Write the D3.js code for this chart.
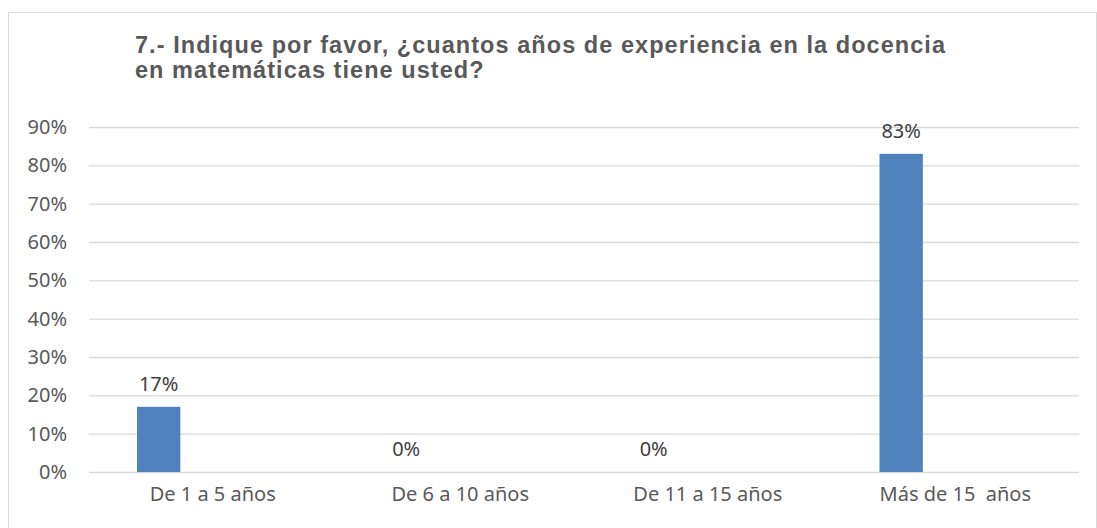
<!DOCTYPE html>
<html lang="es">
<head>
<meta charset="utf-8">
<title>Años de experiencia</title>
<script src="https://cdn.jsdelivr.net/npm/d3@7"></script>
<style>
  body { margin: 0; background: #fff; }
</style>
</head>
<body>
<script>
// data
var categories = ["De 1 a 5 años", "De 6 a 10 años", "De 11 a 15 años", "Más de 15  años"];
var values = [0.17, 0, 0, 0.83];
var yTicks = [0, 0.1, 0.2, 0.3, 0.4, 0.5, 0.6, 0.7, 0.8, 0.9];
var titleLines = ["7.- Indique por favor, ¿cuantos años de experiencia en la docencia",
                  "en matemáticas tiene usted?"];

var width = 1097, height = 528;
var margin = {top: 127, right: 18, bottom: 56, left: 89};
var plotW = width - margin.left - margin.right;
var plotH = height - margin.top - margin.bottom;
var labelFont = "'Noto Sans', sans-serif";

var svg = d3.select("body").append("svg")
    .attr("width", width)
    .attr("height", height);

// chart border
svg.append("rect")
    .attr("x", 8.5).attr("y", 12.5)
    .attr("width", width - 9).attr("height", height - 12)
    .attr("fill", "#fff")
    .attr("stroke", "#d9d9d9");

// title
svg.append("g").selectAll("text")
    .data(titleLines)
    .enter().append("text")
    .attr("x", 135)
    .attr("y", function(d, i) { return 53 + i * 25; })
    .style("font-family", "'Liberation Sans', Arial, sans-serif")
    .style("font-size", "23.5px")
    .style("font-weight", "bold")
    .style("letter-spacing", "1.05px")
    .attr("fill", "#595959")
    .text(function(d) { return d; });

var g = svg.append("g")
    .attr("transform", "translate(" + margin.left + "," + margin.top + ")");

var x = d3.scaleBand().domain(categories).range([0, plotW]).padding(0);
// bars sit in the left slot of each category (second series is empty)
var xSub = d3.scaleBand().domain(["serie", "vacio"])
    .range([x.bandwidth() * 0.194, x.bandwidth() * 0.194 + x.bandwidth() * 0.35]);
var y = d3.scaleLinear().domain([0, 0.9]).range([plotH, 0]);

// gridlines
g.append("g")
    .call(d3.axisLeft(y).tickValues(yTicks).tickSize(-plotW).tickFormat(""))
    .call(function(s) {
        s.select(".domain").remove();
        s.selectAll("line").attr("stroke", "#d9d9d9").attr("stroke-width", 1.3);
    });

// y labels
g.append("g")
    .call(d3.axisLeft(y).tickValues(yTicks).tickSize(0).tickPadding(22)
        .tickFormat(d3.format(".0%")))
    .call(function(s) {
        s.select(".domain").remove();
        s.selectAll("text")
            .style("font-family", labelFont)
            .style("font-size", "20px")
            .attr("fill", "#595959");
    });

// x labels
g.append("g")
    .attr("transform", "translate(0," + plotH + ")")
    .call(d3.axisBottom(x).tickSize(0).tickPadding(15))
    .call(function(s) {
        s.select(".domain").remove();
        s.selectAll("text")
            .style("font-family", labelFont)
            .style("font-size", "20px")
            .style("white-space", "pre")
            .attr("fill", "#595959");
    });

// bars
g.selectAll(".bar")
    .data(values)
    .enter().append("rect")
    .attr("class", "bar")
    .attr("x", function(d, i) { return x(categories[i]) + xSub("serie"); })
    .attr("y", function(d) { return y(d); })
    .attr("width", xSub.bandwidth())
    .attr("height", function(d) { return plotH - y(d); })
    .attr("fill", "#4f81bd");

// value labels
g.selectAll(".lbl")
    .data(values)
    .enter().append("text")
    .attr("class", "lbl")
    .attr("x", function(d, i) { return x(categories[i]) + xSub("serie") + xSub.bandwidth() / 2; })
    .attr("y", function(d) { return y(d) - 16; })
    .attr("text-anchor", "middle")
    .style("font-family", labelFont)
    .style("font-size", "20px")
    .attr("fill", "#404040")
    .text(function(d) { return d3.format(".0%")(d); });
</script>
</body>
</html>
